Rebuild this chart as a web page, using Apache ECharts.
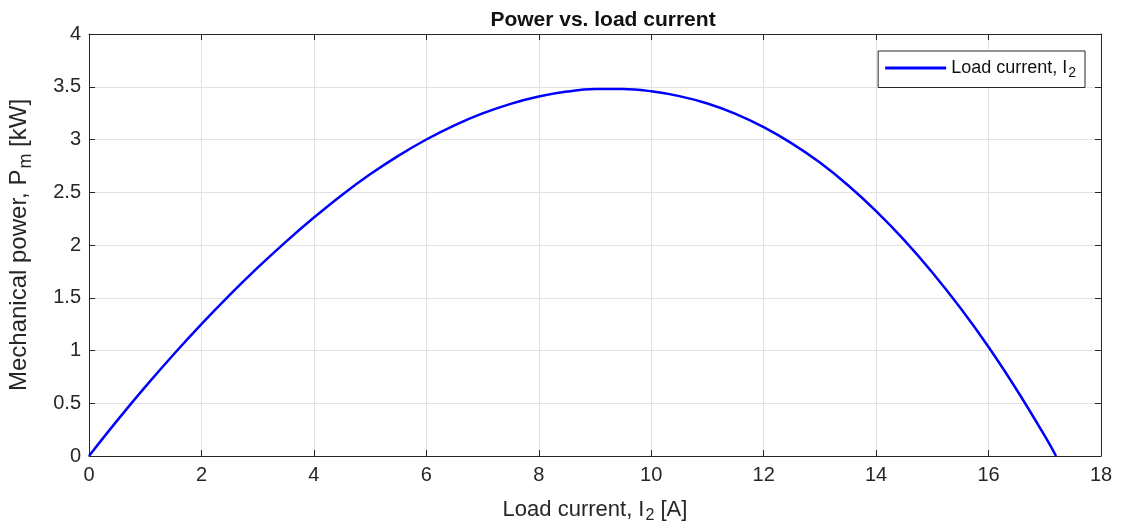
<!DOCTYPE html>
<html>
<head>
<meta charset="utf-8">
<script src="https://cdn.jsdelivr.net/npm/echarts@6/dist/echarts.min.js"></script>
<style>html,body{margin:0;padding:0;background:#fff;}#chart{width:1127px;height:528px;}</style>
</head>
<body>
<div id="chart"></div>
<script>
// Load current I2 [A]
const loadCurrent = [0, 0.5, 1, 1.5, 2, 2.5, 3, 3.5, 4, 4.5, 5, 5.5, 6, 6.5, 7, 7.5, 8, 8.5, 9, 9.5, 10, 10.5, 11, 11.5, 12, 12.5, 13, 13.5, 14, 14.5, 15, 15.5, 16, 16.5, 17, 17.2];
// Mechanical power Pm [kW]
const mechPower = [0, 0.335, 0.655, 0.96, 1.25, 1.525, 1.785, 2.03, 2.26, 2.475, 2.67, 2.845, 3.0, 3.134, 3.247, 3.338, 3.407, 3.454, 3.478, 3.479, 3.457, 3.411, 3.341, 3.243, 3.117, 2.963, 2.781, 2.567, 2.322, 2.047, 1.74, 1.402, 1.033, 0.628, 0.19, 0];
const xTickValues = [0, 2, 4, 6, 8, 10, 12, 14, 16, 18];
const yTickValues = [0, 0.5, 1, 1.5, 2, 2.5, 3, 3.5, 4];

const seriesData = loadCurrent.map((x, i) => [x, mechPower[i]]);
const txt = '#262626';
const font = '"Liberation Sans", Arial, Helvetica, sans-serif';

const chart = echarts.init(document.getElementById('chart'), null, {renderer: 'canvas'});
function axisCommon(extra) {
  return Object.assign({
    type: 'value',
    axisLine: {show: true, onZero: false, lineStyle: {color: txt, width: 1}},
    axisTick: {show: true, inside: true, length: 6, lineStyle: {color: txt}},
    axisLabel: {show: false},
    splitLine: {show: false}
  }, extra);
}
chart.setOption({
  animation: false,
  backgroundColor: '#fff',
  textStyle: {fontFamily: font},
  title: {
    text: 'Power vs. load current',
    left: 598, textAlign: 'center', top: 5,
    textStyle: {fontSize: 21, fontWeight: 'bold', color: '#111', fontFamily: font}
  },
  grid: {left: 89, right: 26, top: 34, bottom: 72, containLabel: false, outerBoundsMode: 'none'},
  legend: {
    right: 42, top: 51,
    orient: 'vertical',
    backgroundColor: '#fff',
    borderColor: txt, borderWidth: 1, borderRadius: 0,
    padding: [8, 9, 7, 7],
    icon: 'rect',
    itemWidth: 61, itemHeight: 3,
    itemGap: 4,
    formatter: function () { return '{a|Load current, I}{s|2}'; },
    textStyle: {
      color: '#111', fontFamily: font,
      rich: {
        a: {fontSize: 18, color: '#111', fontFamily: font},
        s: {fontSize: 14, color: '#111', fontFamily: font, padding: [11, 0, 0, 1]}
      }
    }
  },
  xAxis: [
    axisCommon({
      min: 0, max: 18, interval: 2, position: 'bottom',
      axisLabel: {show: true, fontSize: 20, color: txt, margin: 9, fontFamily: font},
      splitLine: {show: true, lineStyle: {color: '#e2e2e2', width: 1}},
      name: '{a|Load current, I}{s|2}{a| [A]}',
      nameLocation: 'middle', nameGap: 39,
      nameTextStyle: {
        rich: {
          a: {fontSize: 22, color: txt, fontFamily: font},
          s: {fontSize: 16, color: txt, fontFamily: font, padding: [13, 0, 0, 1]}
        }
      }
    }),
    axisCommon({min: 0, max: 18, interval: 2, position: 'top'})
  ],
  yAxis: [
    axisCommon({
      min: 0, max: 4, interval: 0.5, position: 'left',
      axisLabel: {show: true, fontSize: 20, color: txt, margin: 8, fontFamily: font},
      splitLine: {show: true, lineStyle: {color: '#e2e2e2', width: 1}},
      name: '{a|Mechanical power, P}{s|m}{a| [kW]}',
      nameLocation: 'middle', nameGap: 54,
      nameTextStyle: {
        rich: {
          a: {fontSize: 24, color: txt, fontFamily: font},
          s: {fontSize: 18, color: txt, fontFamily: font, padding: [14, 0, 0, 1]}
        }
      }
    }),
    axisCommon({min: 0, max: 4, interval: 0.5, position: 'right'})
  ],
  series: [{
    name: 'Load current',
    type: 'line',
    xAxisIndex: 0, yAxisIndex: 0,
    data: seriesData,
    smooth: 0.4,
    symbol: 'none',
    lineStyle: {color: '#0000ff', width: 2.5},
    itemStyle: {color: '#0000ff'}
  }]
});
</script>
</body>
</html>
